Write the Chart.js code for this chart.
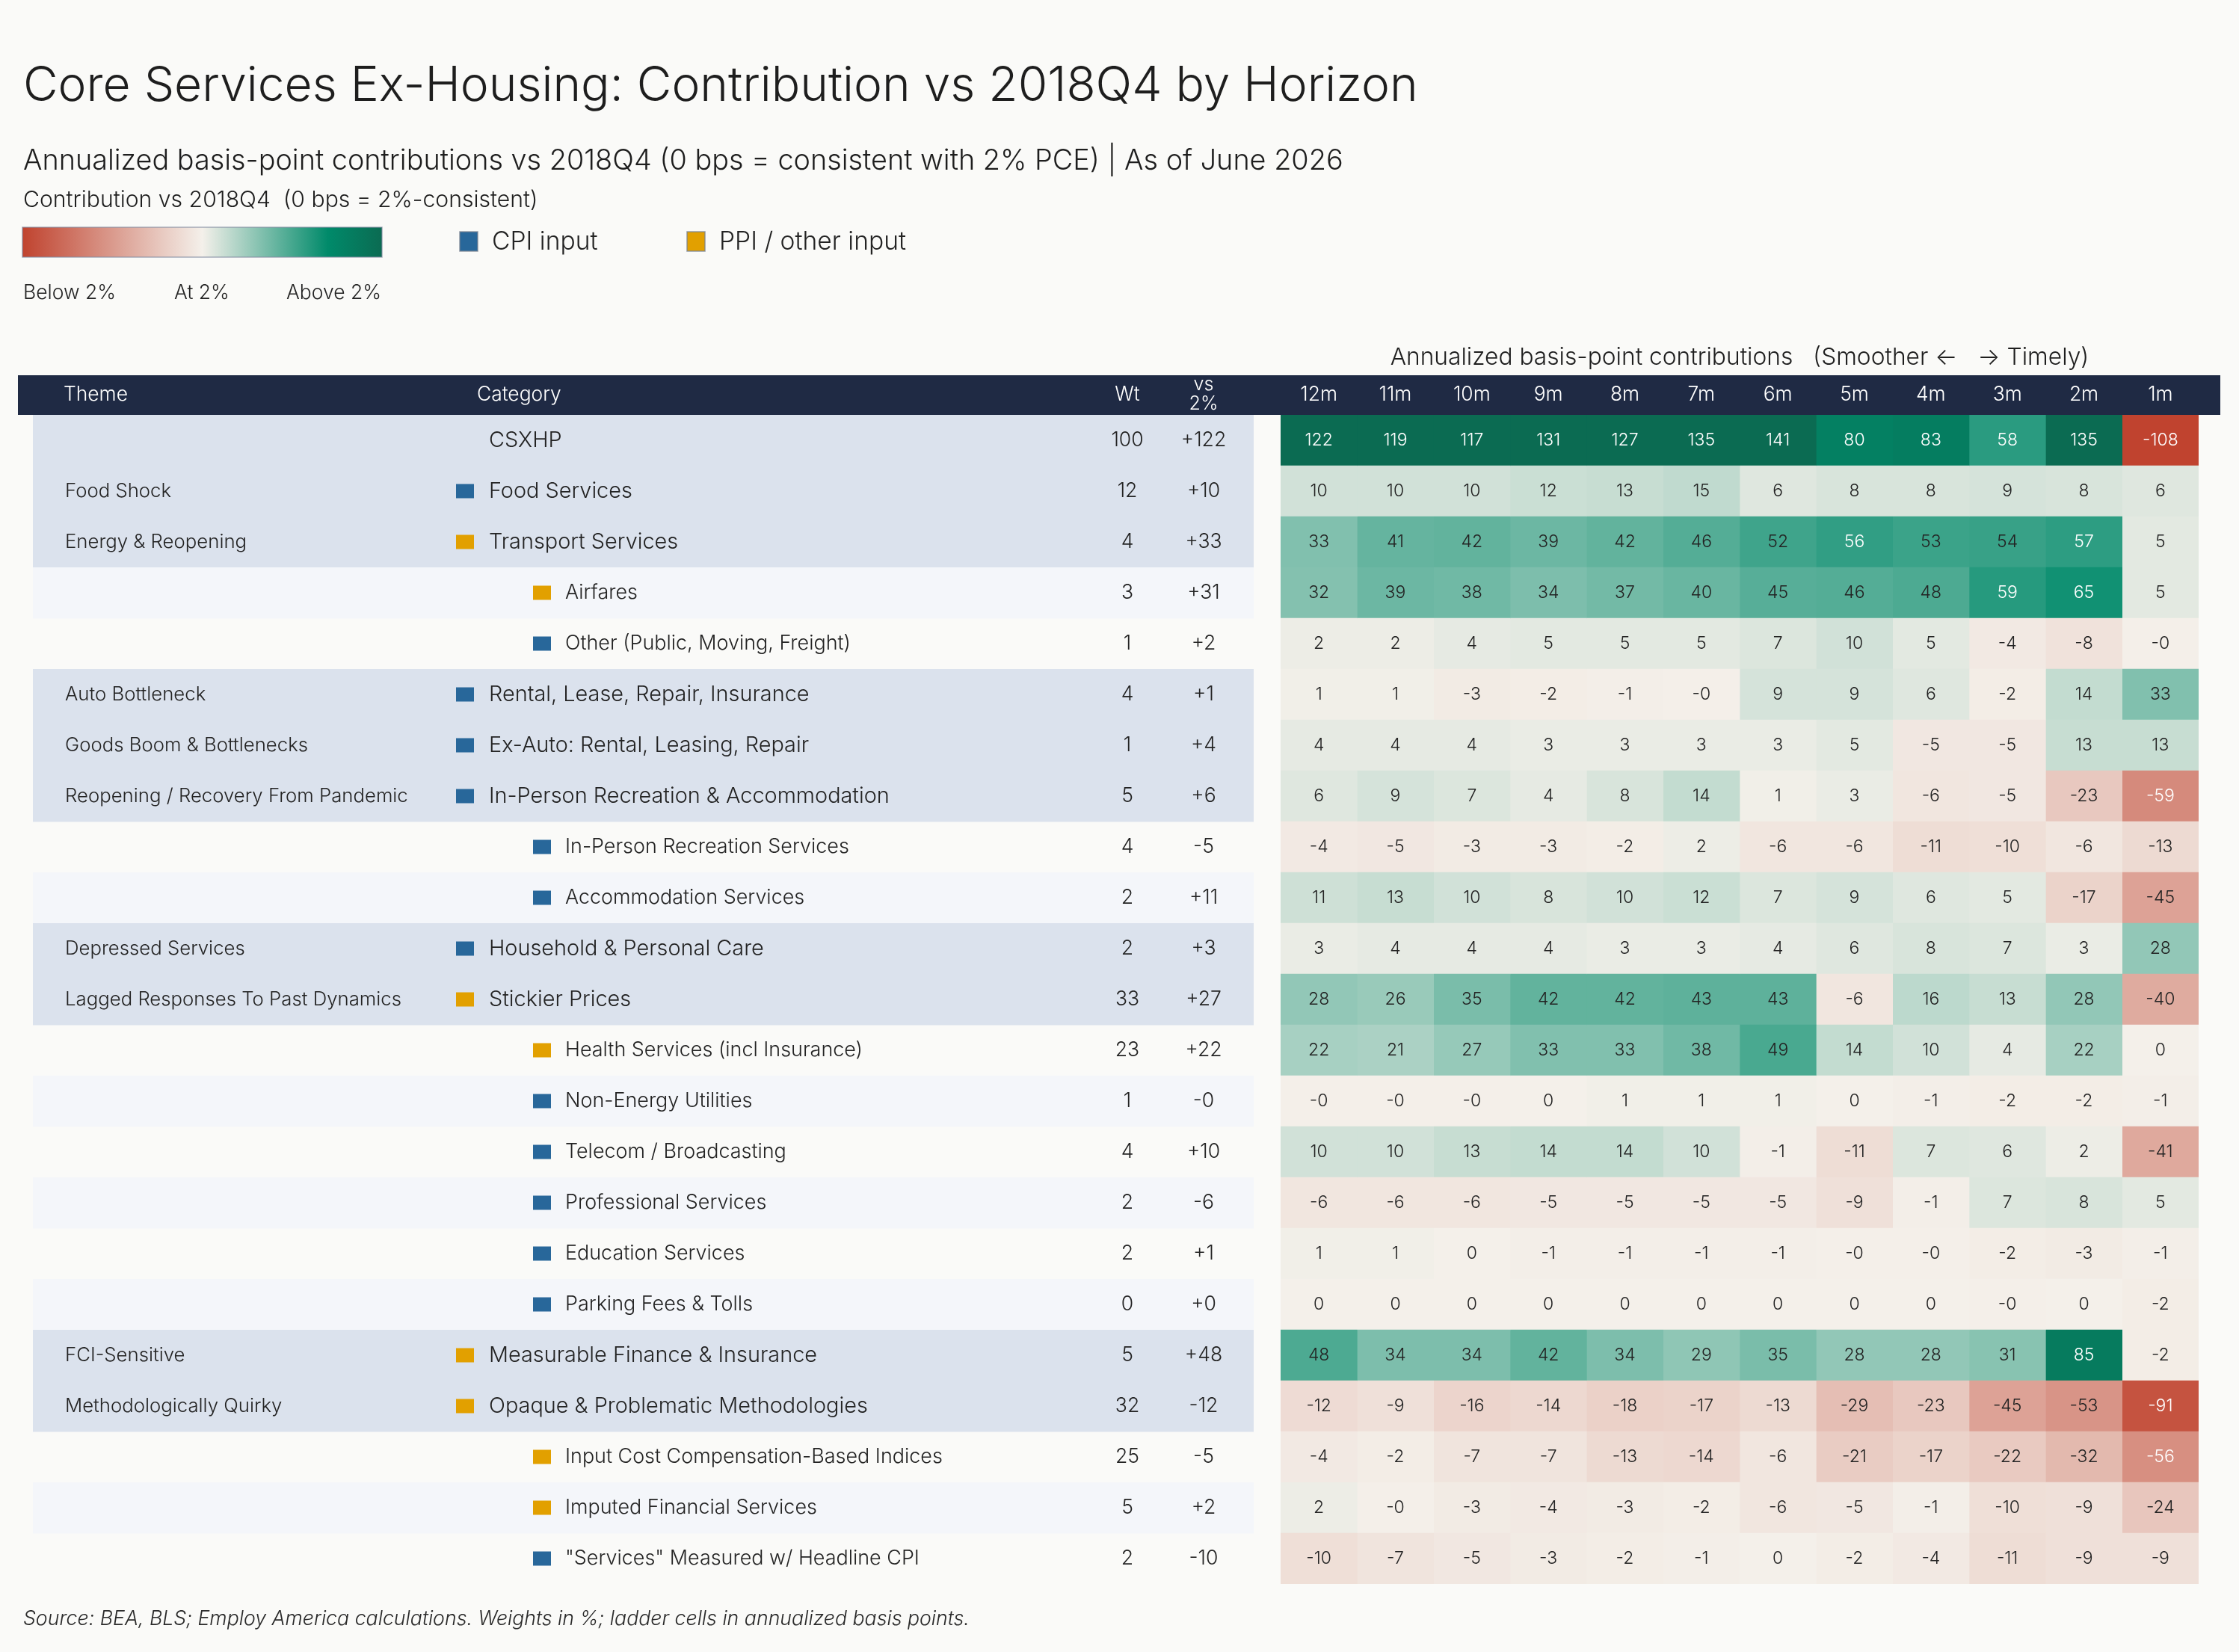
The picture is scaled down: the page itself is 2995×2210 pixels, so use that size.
<!DOCTYPE html>
<html>
<head>
<meta charset="utf-8">
<script src="https://cdn.jsdelivr.net/npm/chart.js@4.4.1/dist/chart.umd.min.js"></script>
<style>
  html, body { margin: 0; padding: 0; background: #fafaf8; }
  #wrap { width: 2995px; height: 2210px; }
</style>
</head>
<body>
<div id="wrap"><canvas id="ladder" width="2995" height="2210"></canvas></div>
<script>
// ==============================
// Data
// ==============================
const horizons = ['12m', '11m', '10m', '9m', '8m', '7m', '6m', '5m', '4m', '3m', '2m', '1m'];

const categories = [
    'CSXHP', 'Food Services', 'Transport Services', 'Airfares', 'Other (Public, Moving, Freight)',
    'Rental, Lease, Repair, Insurance', 'Ex-Auto: Rental, Leasing, Repair',
    'In-Person Recreation & Accommodation', 'In-Person Recreation Services', 'Accommodation Services',
    'Household & Personal Care', 'Stickier Prices', 'Health Services (incl Insurance)',
    'Non-Energy Utilities', 'Telecom / Broadcasting', 'Professional Services', 'Education Services',
    'Parking Fees & Tolls', 'Measurable Finance & Insurance', 'Opaque & Problematic Methodologies',
    'Input Cost Compensation-Based Indices', 'Imputed Financial Services', '"Services" Measured w/ Headline CPI'
];

const themes = [
    '', 'Food Shock', 'Energy & Reopening', '', '', 'Auto Bottleneck', 'Goods Boom & Bottlenecks',
    'Reopening / Recovery From Pandemic', '', '', 'Depressed Services', 'Lagged Responses To Past Dynamics',
    '', '', '', '', '', '', 'FCI-Sensitive', 'Methodologically Quirky', '', '', ''
];

// 0 = total, 1 = theme row, 2 = component
const levels = [0, 1, 1, 2, 2, 1, 1, 1, 2, 2, 1, 1, 2, 2, 2, 2, 2, 2, 1, 1, 2, 2, 2];

const inputs = ['', 'CPI', 'PPI', 'PPI', 'CPI', 'CPI', 'CPI', 'CPI', 'CPI', 'CPI', 'CPI', 'PPI',
    'PPI', 'CPI', 'CPI', 'CPI', 'CPI', 'CPI', 'PPI', 'PPI', 'PPI', 'PPI', 'CPI'];

const weights = [100, 12, 4, 3, 1, 4, 1, 5, 4, 2, 2, 33, 23, 1, 4, 2, 2, 0, 5, 32, 25, 5, 2];

const vs2 = [122, 10, 33, 31, 2, 1, 4, 6, -5, 11, 3, 27, 22, -0.3, 10, -6, 1, 0.2, 48, -12, -5, 2, -10];

// annualized bps, one row per category, columns 12m ... 1m
const ladder = [
    [122, 119, 117, 131, 127, 135, 141, 80, 83, 58, 135, -108],
    [10, 10, 10, 12, 13, 15, 6, 8, 8, 9, 8, 6],
    [33, 41, 42, 39, 42, 46, 52, 56, 53, 54, 57, 5],
    [32, 39, 38, 34, 37, 40, 45, 46, 48, 59, 65, 5],
    [2, 2, 4, 5, 5, 5, 7, 10, 5, -4, -8, -0.3],
    [1, 1, -3, -2, -1, -0.3, 9, 9, 6, -2, 14, 33],
    [4, 4, 4, 3, 3, 3, 3, 5, -5, -5, 13, 13],
    [6, 9, 7, 4, 8, 14, 1, 3, -6, -5, -23, -59],
    [-4, -5, -3, -3, -2, 2, -6, -6, -11, -10, -6, -13],
    [11, 13, 10, 8, 10, 12, 7, 9, 6, 5, -17, -45],
    [3, 4, 4, 4, 3, 3, 4, 6, 8, 7, 3, 28],
    [28, 26, 35, 42, 42, 43, 43, -6, 16, 13, 28, -40],
    [22, 21, 27, 33, 33, 38, 49, 14, 10, 4, 22, 0],
    [-0.3, -0.3, -0.3, 0, 1, 1, 1, 0, -1, -2, -2, -1],
    [10, 10, 13, 14, 14, 10, -1, -11, 7, 6, 2, -41],
    [-6, -6, -6, -5, -5, -5, -5, -9, -1, 7, 8, 5],
    [1, 1, 0, -1, -1, -1, -1, -0.3, -0.3, -2, -3, -1],
    [0, 0, 0, 0, 0, 0, 0, 0, 0, -0.3, 0, -2],
    [48, 34, 34, 42, 34, 29, 35, 28, 28, 31, 85, -2],
    [-12, -9, -16, -14, -18, -17, -13, -29, -23, -45, -53, -91],
    [-4, -2, -7, -7, -13, -14, -6, -21, -17, -22, -32, -56],
    [2, -0.3, -3, -4, -3, -2, -6, -5, -1, -10, -9, -24],
    [-10, -7, -5, -3, -2, -1, 0, -2, -4, -11, -9, -9]
];

// ==============================
// Style
// ==============================
const FAMILY = "Inter, 'Noto Sans', sans-serif";
const W = '300 ';
const INK = '#232323';
const NAVY = '#1f2a44';
const CPI_BLUE = '#28679a';
const PPI_GOLD = '#e2a000';
const BAND_MAIN = '#dbe2ed';
const BAND_LIGHT = '#f4f6fa';
const PAGE = '#fafaf8';

// diverging scale: red below 0, green above
const colorStops = [
    [-100, [192, 67, 47]],
    [0, [244, 240, 234]],
    [70, [0, 138, 106]],
    [100, [11, 107, 82]]
];

function heatColor(v) {
    if (v <= colorStops[0][0]) return rgb(colorStops[0][1]);
    for (let i = 1; i < colorStops.length; i++) {
        const [v1, c1] = colorStops[i];
        const [v0, c0] = colorStops[i - 1];
        if (v <= v1) {
            const t = (v - v0) / (v1 - v0);
            return rgb(c0.map((c, j) => c + (c1[j] - c) * t));
        }
    }
    return rgb(colorStops[colorStops.length - 1][1]);
}
function rgb(c) { return `rgb(${c.map(Math.round).join(',')})`; }

function fmt(v) { return v.toFixed(0); }
function fmtSigned(v) { return (v >= 0 ? '+' : '') + v.toFixed(0); }

// ==============================
// Canvas helpers
// ==============================
function fitSize(ctx, txt, width, pre) {
    ctx.font = `${pre || W}100px ${FAMILY}`;
    return 100 * width / ctx.measureText(txt).width;
}
function text(ctx, txt, x, y, size, color, align, baseline, pre) {
    ctx.font = `${pre || W}${size}px ${FAMILY}`;
    ctx.fillStyle = color;
    ctx.textAlign = align || 'left';
    ctx.textBaseline = baseline || 'middle';
    ctx.fillText(txt, x, y);
}

// ==============================
// Table + titles plugin
// ==============================
const tablePlugin = {
    id: 'tableFrame',
    beforeDraw(chart) {
        const ctx = chart.ctx;
        const yScale = chart.scales.y;
        const area = chart.chartArea;
        const rowH = (yScale.bottom - yScale.top) / categories.length;

        ctx.save();
        ctx.fillStyle = PAGE;
        ctx.fillRect(0, 0, chart.width, chart.height);

        // titles
        const title = 'Core Services Ex-Housing: Contribution vs 2018Q4 by Horizon';
        text(ctx, title, 31, 135, fitSize(ctx, title, 1866), '#1e1e1e', 'left', 'alphabetic');
        const sub = 'Annualized basis-point contributions vs 2018Q4 (0 bps = consistent with 2% PCE) | As of June 2026';
        text(ctx, sub, 31, 227, fitSize(ctx, sub, 1766), '#1e1e1e', 'left', 'alphabetic');
        const lt = 'Contribution vs 2018Q4  (0 bps = 2%-consistent)';
        text(ctx, lt, 31, 277, fitSize(ctx, lt, 689), '#1e1e1e', 'left', 'alphabetic');

        // colour bar
        const g = ctx.createLinearGradient(30, 0, 511, 0);
        g.addColorStop(0, heatColor(-100));
        g.addColorStop(0.25, heatColor(-50));
        g.addColorStop(0.5, heatColor(0));
        g.addColorStop(0.675, heatColor(35));
        g.addColorStop(0.85, heatColor(70));
        g.addColorStop(1, heatColor(100));
        ctx.fillStyle = g;
        ctx.fillRect(30, 304, 481, 40);
        ctx.strokeStyle = 'rgba(130,140,160,0.7)';
        ctx.lineWidth = 1.5;
        ctx.strokeRect(30, 304, 481, 40);
        const lblSize = fitSize(ctx, 'Below 2%', 124);
        text(ctx, 'Below 2%', 31, 400, lblSize, INK, 'left', 'alphabetic');
        text(ctx, 'At 2%', 233, 400, lblSize, INK, 'left', 'alphabetic');
        text(ctx, 'Above 2%', 383, 400, lblSize, INK, 'left', 'alphabetic');

        // input legend
        const legSize = fitSize(ctx, 'PPI / other input', 250);
        [[615, CPI_BLUE, 'CPI input', 658], [919, PPI_GOLD, 'PPI / other input', 962]].forEach(([x, c, t, tx]) => {
            ctx.fillStyle = c;
            ctx.fillRect(x, 310, 24, 26);
            ctx.strokeStyle = 'rgba(120,130,145,0.8)';
            ctx.lineWidth = 1.5;
            ctx.strokeRect(x, 310, 24, 26);
            text(ctx, t, tx, 334, legSize, INK, 'left', 'alphabetic');
        });

        // ladder super-header
        const sh = 'Annualized basis-point contributions   (Smoother \u2190   \u2192 Timely)';
        text(ctx, sh, (area.left + area.right) / 2, 478, fitSize(ctx, sh, 935), '#1e1e1e', 'center');

        // header band
        ctx.fillStyle = NAVY;
        ctx.fillRect(24, 502, 2946, 53);
        const hs = fitSize(ctx, 'Theme', 86);
        text(ctx, 'Theme', 85, 528, hs, '#ffffff');
        text(ctx, 'Category', 638, 528, hs, '#ffffff');
        text(ctx, 'Wt', 1508, 528, hs, '#ffffff', 'center');
        text(ctx, 'vs', 1610, 514, hs * 0.95, '#ffffff', 'center');
        text(ctx, '2%', 1610, 540, hs * 0.95, '#ffffff', 'center');
        const xScale = chart.scales.x;
        horizons.forEach((h, k) => {
            text(ctx, h, xScale.getPixelForValue(k + 0.5), 528, hs, '#ffffff', 'center');
        });

        // left table
        const themeSize = fitSize(ctx, 'Reopening / Recovery From Pandemic', 459);
        const catSize = fitSize(ctx, 'Opaque & Problematic Methodologies', 507);
        const subSize = fitSize(ctx, 'Input Cost Compensation-Based Indices', 505);
        const numSize = catSize * 0.92;
        categories.forEach((cat, i) => {
            const cy = yScale.getPixelForValue(i);
            const top = cy - rowH / 2;
            const lvl = levels[i];
            let band = null;
            if (lvl < 2) band = BAND_MAIN;
            else if (i % 2 === 1) band = BAND_LIGHT;
            if (band) {
                ctx.fillStyle = band;
                ctx.fillRect(44, top, 1633, rowH + 0.5);
            }
            if (themes[i]) text(ctx, themes[i], 87, cy, themeSize, INK);
            const mx = lvl === 2 ? 713 : 610;
            const tx = lvl === 2 ? 756 : 654;
            if (inputs[i]) {
                ctx.fillStyle = inputs[i] === 'CPI' ? CPI_BLUE : PPI_GOLD;
                ctx.fillRect(mx, cy - 9.5, 24, 19);
            }
            text(ctx, cat, tx, cy, lvl === 2 ? subSize : catSize, INK);
            text(ctx, String(weights[i]), 1508, cy, numSize, INK, 'center');
            text(ctx, fmtSigned(vs2[i]), 1610, cy, numSize, INK, 'center');
        });

        // source
        const src = 'Source: BEA, BLS; Employ America calculations. Weights in %; ladder cells in annualized basis points.';
        text(ctx, src, 31, 2166, fitSize(ctx, src, 1266, 'italic 300 '), '#2a2a2a', 'left', 'middle', 'italic 300 ');
        ctx.restore();
    },
    afterDatasetsDraw(chart) {
        const ctx = chart.ctx;
        ctx.save();
        const size = 23;
        chart.data.datasets.forEach((ds, k) => {
            chart.getDatasetMeta(k).data.forEach((bar, i) => {
                const v = ladder[i][k];
                const c = bar.getCenterPoint();
                text(ctx, fmt(v), c.x, c.y, size, Math.abs(v) >= 55 ? '#ffffff' : INK, 'center');
            });
        });
        ctx.restore();
    }
};

// ==============================
// Chart.js
// ==============================
function renderLadder() {
    const ctx = document.getElementById('ladder').getContext('2d');
    new Chart(ctx, {
        type: 'bar',
        data: {
            labels: categories,
            datasets: horizons.map((h, k) => ({
                label: h,
                data: categories.map(() => [k, k + 1]),
                backgroundColor: ladder.map(row => heatColor(row[k])),
                borderWidth: 0,
                barPercentage: 1,
                categoryPercentage: 1,
                grouped: false
            }))
        },
        options: {
            indexAxis: 'y',
            responsive: false,
            devicePixelRatio: 1,
            animation: false,
            layout: { padding: { left: 1713, right: 54, top: 555, bottom: 91 } },
            scales: {
                x: { type: 'linear', min: 0, max: 12, display: false },
                y: { type: 'category', display: false }
            },
            plugins: { legend: { display: false }, tooltip: { enabled: false } }
        },
        plugins: [tablePlugin]
    });
}

renderLadder();
</script>
</body>
</html>
